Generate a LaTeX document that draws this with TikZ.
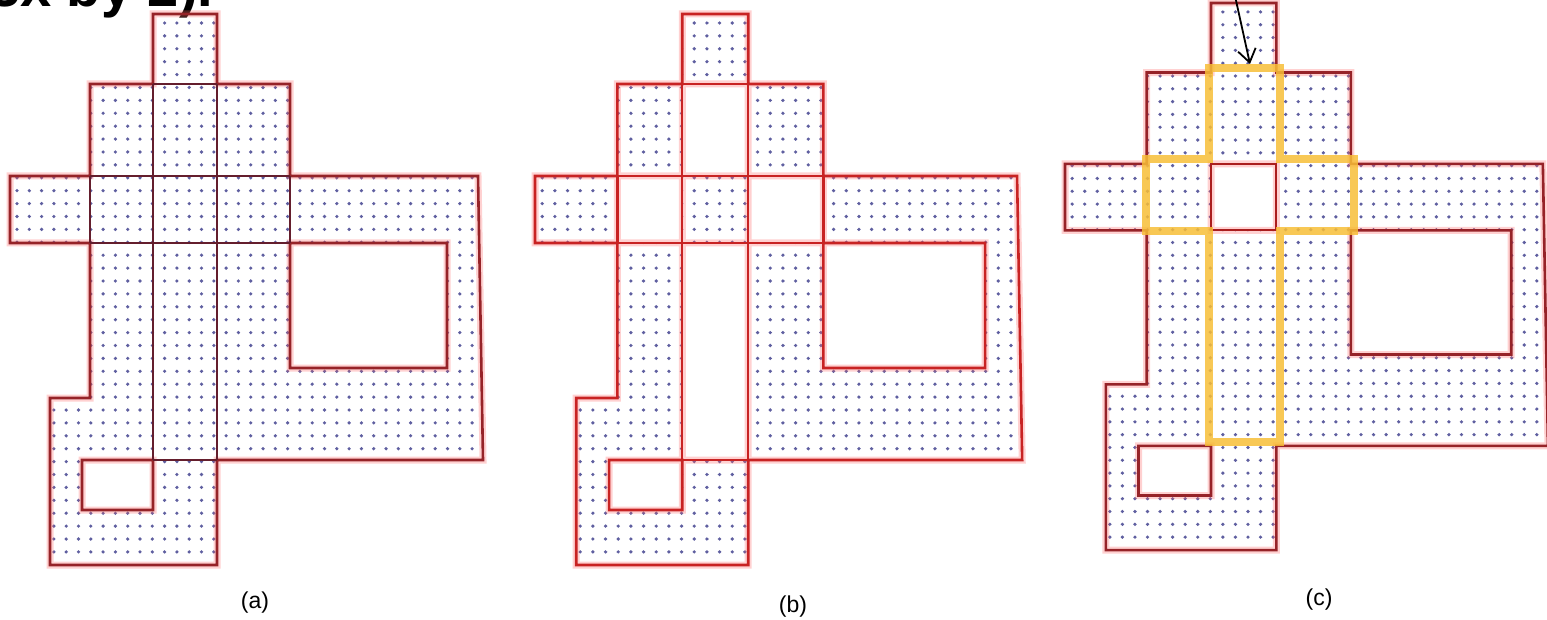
\documentclass[tikz,border=0pt]{standalone}
\usepackage{fontspec}
\setmainfont{Liberation Sans}
\usetikzlibrary{arrows.meta}

\definecolor{dotblue}{RGB}{95,95,160}
\definecolor{edgered}{RGB}{150,35,40}
\definecolor{brightred}{RGB}{200,35,35}
\definecolor{darkline}{RGB}{100,30,45}
\definecolor{crossyellow}{RGB}{247,190,55}

% region outline, holes and cell lines, in the pixel coordinates of panel (a)
\newcommand{\regionborder}{(153,14) -- (217,14) -- (217,84) -- (290,84) -- (290,176) -- (478,176) -- (483,460) -- (217,460) -- (217,565) -- (50,565) -- (50,398) -- (90,398) -- (90,243) -- (10,243) -- (10,176) -- (90,176) -- (90,84) -- (153,84) -- cycle}
\newcommand{\regionholes}{(290,243) rectangle (447,368) (82,460) rectangle (153,510)}
\newcommand{\celllines}{(153,84) -- (153,460) (217,84) -- (217,460) (153,84) -- (217,84) (153,460) -- (217,460) (90,176) -- (290,176) (90,243) -- (290,243) (90,176) -- (90,243) (290,176) -- (290,243)}
\newcommand{\regiondots}{%
  \begin{scope}
    \clip \regionborder;
    \foreach \j in {0,...,41}
      \fill[dotblue] \foreach \i in {0,...,37} {(17+\i*12.3, 23+\j*12.9) circle (1.8)};
  \end{scope}
  \fill[white] \regionholes;}

\begin{document}
\begin{tikzpicture}[x=1pt, y=-1pt,
    glow/.style={line width=7pt, draw=red!60!white, draw opacity=0.3},
    borderline/.style={line width=2.6pt, draw=#1},
    cellline/.style={line width=2.2pt, draw=#1},
    crossline/.style={line width=8pt, draw=crossyellow, draw opacity=0.85},
    caption/.style={font=\fontsize{23}{27}\selectfont},
    pointer/.style={-{Straight Barb[length=13pt, width=18pt]}, line width=1.8pt, black}
]
\useasboundingbox (0,0) rectangle (1547,620);
\clip (0,0) rectangle (1547,620);

% cut-off heading
\node[anchor=base west, inner sep=0pt, font=\fontsize{56}{60}\selectfont\bfseries] (heading) at (-11,7) {3x by 2).};

% panel (a)
\begin{scope}
  \regiondots
  \draw[glow] \regionborder \regionholes;
  \draw[borderline=edgered] \regionborder \regionholes;
  \draw[cellline=darkline] \celllines;
\end{scope}

% panel (b)
\begin{scope}[xshift=524.7pt, xscale=1.03]
  \regiondots
  \fill[white] (153,84) rectangle (217,176) (153,243) rectangle (217,460)
    (90,176) rectangle (153,243) (217,176) rectangle (290,243);
  \draw[glow] \regionborder \regionholes \celllines;
  \draw[borderline=brightred] \regionborder \regionholes;
  \draw[cellline=brightred] \celllines;
\end{scope}

% panel (c)
\begin{scope}[xshift=1054.8pt, yshift=10.9pt, xscale=1.021, yscale=0.993]
  \regiondots
  \fill[white] (153,176) rectangle (217,243);
  \draw[glow] \regionborder \regionholes (153,176) rectangle (217,243);
  \draw[borderline=edgered] \regionborder \regionholes;
  \draw[cellline=brightred!85!black] (153,176) rectangle (217,243);
  \draw[crossline] (151,79) -- (221,79) -- (221,171) -- (293,171) -- (293,244) -- (221,244)
    -- (221,456) -- (151,456) -- (151,244) -- (89,244) -- (89,171) -- (151,171) -- cycle;
\end{scope}

% pointer
\coordinate (pointtail) at (1235,-4);
\coordinate (pointtip) at (1250,64);
\draw[pointer] (pointtail) -- (pointtip);

% captions
\node[caption] (capa) at (255,603) {(a)};
\node[caption] (capb) at (793,607) {(b)};
\node[caption] (capc) at (1319,600) {(c)};

\end{tikzpicture}
\end{document}
